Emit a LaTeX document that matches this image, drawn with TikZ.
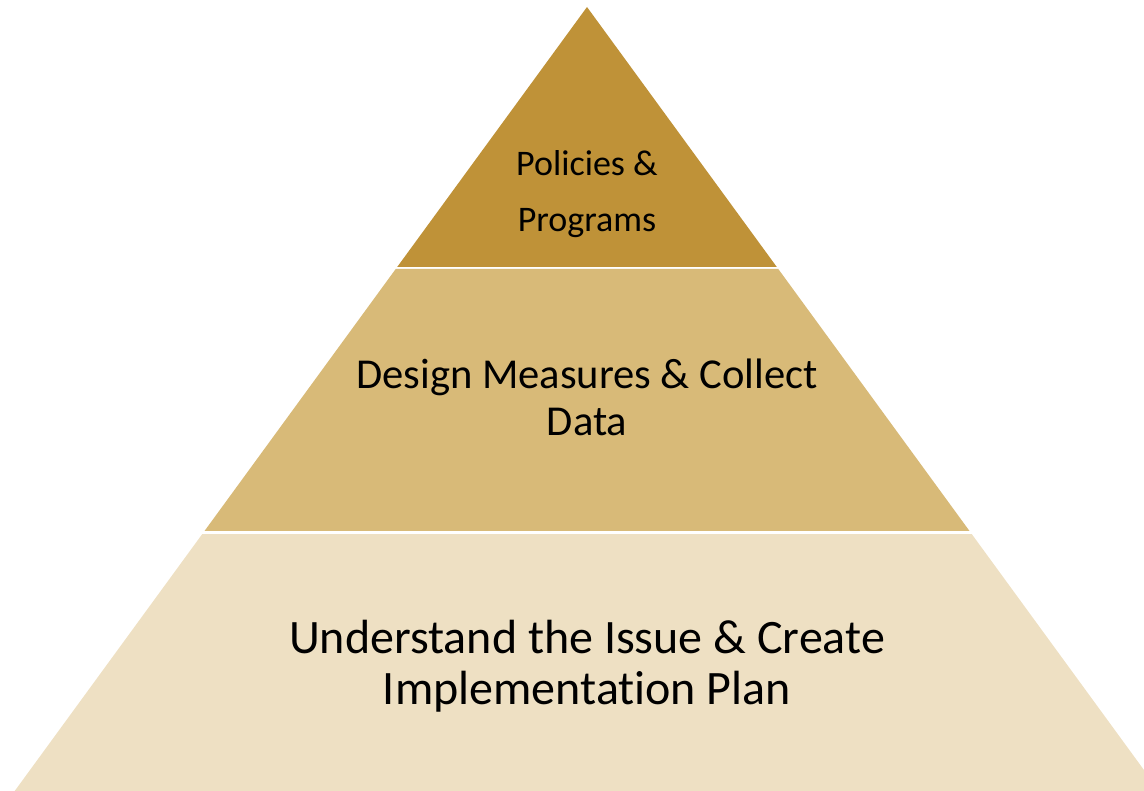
\documentclass[tikz,border=0pt]{standalone}
\usepackage{fontspec}
\setmainfont{Carlito}[Ligatures=NoCommon]
\definecolor{tierA}{RGB}{191,146,56}
\definecolor{tierB}{RGB}{216,186,120}
\definecolor{tierC}{RGB}{238,224,195}
\begin{document}
\begin{tikzpicture}[x=1pt,y=-1pt,
  lbl/.style={anchor=base,inner sep=0pt,text=black}]
\useasboundingbox (0,0) rectangle (1144,791);
\clip (0,0) rectangle (1144,791);
\fill[tierA] (587,7) -- (776.8,267) -- (397.2,267) -- cycle;
\fill[tierB] (395.7,269) -- (778.3,269) -- (969.5,531) -- (204.5,531) -- cycle;
\fill[tierC] (202.3,534) -- (971.7,534) -- (1159.3,791) -- (14.7,791) -- cycle;
\node[lbl,font=\fontsize{36}{40}\selectfont] (a1) at (587,176) {Policies \&};
\node[lbl,font=\fontsize{36}{40}\selectfont] (a2) at (587,232) {Programs};
\node[lbl,font=\fontsize{42.6}{46}\selectfont] (b1) at (587,389) {Design Measures \& Collect};
\node[lbl,font=\fontsize{42.6}{46}\selectfont] (b2) at (587,436) {Data};
\node[lbl,font=\fontsize{48}{52}\selectfont] (c1) at (587,653) {Understand the Issue \& Create};
\node[lbl,font=\fontsize{48}{52}\selectfont] (c2) at (587,704) {Implementation Plan};
\end{tikzpicture}
\end{document}
